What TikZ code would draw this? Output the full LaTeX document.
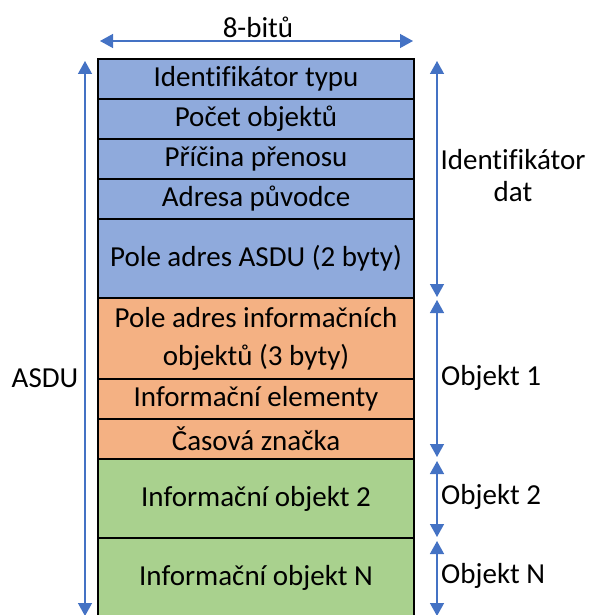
\documentclass[tikz,border=0pt]{standalone}
\usepackage{fontspec}
\setmainfont{Carlito}[Ligatures=NoCommon]
\usetikzlibrary{arrows.meta}
\definecolor{hdrblue}{HTML}{8FAADC}
\definecolor{objorange}{HTML}{F4B183}
\definecolor{objgreen}{HTML}{A9D18E}
\definecolor{dimblue}{HTML}{4472C4}
\tikzset{
  field/.style={draw=black, line width=1.6pt, minimum width=316pt, inner sep=0pt,
    outer sep=0pt, align=center, font=\fontsize{29}{38}\selectfont, anchor=north},
  dimarrow/.style={draw=dimblue, line width=1.4pt,
    {Triangle[width=14pt,length=13pt]}-{Triangle[width=14pt,length=13pt]}},
  dimlabel/.style={font=\fontsize{29}{32}\selectfont, inner sep=0pt, align=center}
}
\begin{document}
\begin{tikzpicture}[x=1pt,y=-1pt]
\useasboundingbox (0,0) rectangle (591,615);
\clip (0,0) rectangle (591,615);
% ASDU fields, top to bottom
\node[field, fill=hdrblue, minimum height=40pt] (f1) at (256,59) {Identifikátor typu};
\node[field, fill=hdrblue, minimum height=40pt] (f2) at (256,99) {Počet objektů};
\node[field, fill=hdrblue, minimum height=40pt] (f3) at (256,139) {Příčina přenosu};
\node[field, fill=hdrblue, minimum height=40pt] (f4) at (256,179) {Adresa původce};
\node[field, fill=hdrblue, minimum height=79pt] (f5) at (256,219) {Pole adres ASDU (2 byty)};
\node[field, fill=objorange, minimum height=81pt] (f6) at (256,298) {Pole adres informačních\\objektů (3 byty)};
\node[field, fill=objorange, minimum height=40pt] (f7) at (256,379) {Informační elementy};
\node[field, fill=objorange, minimum height=40pt] (f8) at (256,419) {Časová značka};
\node[field, fill=objgreen, minimum height=79pt] (f9) at (256,459) {Informační objekt 2};
\node[field, fill=objgreen, minimum height=80pt] (f10) at (256,538) {Informační objekt N};

% width dimension
\coordinate (wl) at (100,41);
\coordinate (wr) at (413,41);
\draw[dimarrow] (wl) -- (wr);
\node[dimlabel] (wlab) at (258,27) {8-bitů};

% total length dimension
\coordinate (at) at (85,61);
\coordinate (ab) at (85,616);
\draw[dimarrow] (at) -- (ab);
\node[dimlabel] (alab) at (45,378) {ASDU};

% part dimensions on the right
\coordinate (i1) at (437,61);
\coordinate (i2) at (437,297);
\coordinate (o1) at (437,300);
\coordinate (o2) at (437,457);
\coordinate (p1) at (437,461);
\coordinate (p2) at (437,537);
\coordinate (n1) at (437,541);
\coordinate (n2) at (437,616);
\draw[dimarrow] (i1) -- (i2);
\draw[dimarrow] (o1) -- (o2);
\draw[dimarrow] (p1) -- (p2);
\draw[dimarrow] (n1) -- (n2);
\node[dimlabel] (ilab) at (513,176) {Identifikátor\\dat};
\node[dimlabel, anchor=west] (olab) at (441,378) {Objekt 1};
\node[dimlabel, anchor=west] (plab) at (441,497) {Objekt 2};
\node[dimlabel, anchor=west] (nlab) at (441,576) {Objekt N};
\end{tikzpicture}
\end{document}
